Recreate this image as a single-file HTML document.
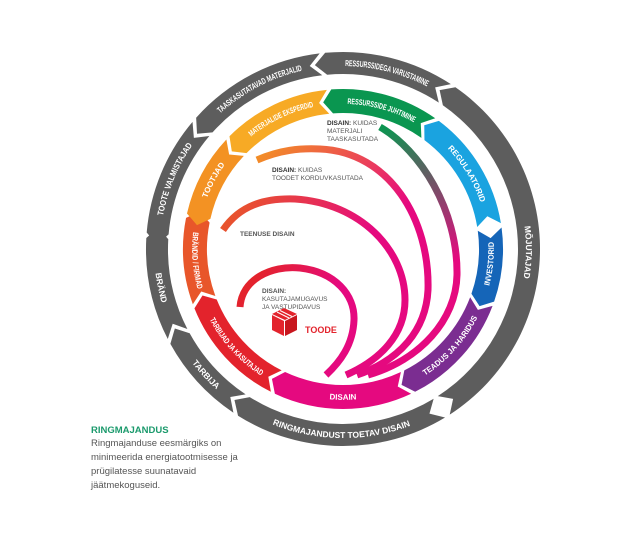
<!DOCTYPE html>
<html><head><meta charset="utf-8">
<style>
html,body{margin:0;padding:0;background:#fff;}
svg{display:block;}
.g{font-family:"Liberation Sans Narrow","Liberation Sans",sans-serif;font-weight:bold;fill:#fff;}
.s{font-family:"Liberation Sans Narrow","Liberation Sans",sans-serif;font-size:6.5px;fill:#555;}
</style></head>
<body>
<svg id="sv" width="640" height="533" viewBox="0 0 640 533" xmlns="http://www.w3.org/2000/svg">
<defs>
<linearGradient id="gr1" gradientUnits="userSpaceOnUse" x1="240" y1="300" x2="340" y2="370"><stop offset="0" stop-color="#e3232c"/><stop offset="0.6" stop-color="#e5097f"/></linearGradient>
<linearGradient id="gr2" gradientUnits="userSpaceOnUse" x1="223" y1="220" x2="400" y2="340"><stop offset="0" stop-color="#e8562a"/><stop offset="0.6" stop-color="#e5097f"/></linearGradient>
<linearGradient id="gr3" gradientUnits="userSpaceOnUse" x1="257" y1="150" x2="430" y2="320"><stop offset="0" stop-color="#f39223"/><stop offset="0.6" stop-color="#e5097f"/></linearGradient>
<linearGradient id="gr4" gradientUnits="userSpaceOnUse" x1="380" y1="127" x2="450" y2="330"><stop offset="0" stop-color="#0a9650"/><stop offset="0.7" stop-color="#e5097f"/></linearGradient>
</defs>
<g id="rings"></g>
<g fill="none" stroke-width="7">
<path d="M380,127 C420,150 458,210 457,275 C456,320 420,360 368,375" stroke="url(#gr4)"/>
<path d="M257,160 C280,150 300,148 320,149 C390,152 430,220 428,290 C426,330 400,360 357,375" stroke="url(#gr3)"/>
<path d="M223,230 C240,205 265,198 295,199 C360,203 405,250 405,300 C405,335 380,360 346,375" stroke="url(#gr2)"/>
<path d="M240,307 C242,280 270,265 300,268 C335,272 355,295 354,320 C353,345 340,362 326,375" stroke="url(#gr1)"/>
</g>
<text class="s" x="327" y="125"><tspan font-weight="bold" fill="#333">DISAIN:</tspan> KUIDAS</text>
<text class="s" x="327" y="133">MATERJALI</text>
<text class="s" x="327" y="141">TAASKASUTADA</text>
<text class="s" x="272" y="172"><tspan font-weight="bold" fill="#333">DISAIN:</tspan> KUIDAS</text>
<text class="s" x="272" y="180">TOODET KORDUVKASUTADA</text>
<text class="s" x="240" y="236" font-weight="bold" fill="#333">TEENUSE DISAIN</text>
<text class="s" x="262" y="293" font-weight="bold" fill="#333">DISAIN:</text>
<text class="s" x="262" y="301">KASUTAJAMUGAVUS</text>
<text class="s" x="262" y="309">JA VASTUPIDAVUS</text>
<g transform="translate(272,308)">
<polygon points="12,0 25,6 13,12 0,6" fill="#e3232c"/>
<polygon points="0,7 12,13 12,28 0,22" fill="#e3232c"/>
<polygon points="13,13 25,7 25,22 13,28" fill="#c8161e"/>
<line x1="5" y1="4" x2="17" y2="10" stroke="#fff" stroke-width="1"/>
<line x1="8" y1="2.5" x2="20" y2="8.5" stroke="#fff" stroke-width="1"/>
</g>
<text x="305" y="333" font-family="Liberation Sans Narrow, Liberation Sans, sans-serif" font-weight="bold" font-size="9" fill="#e3232c">TOODE</text>
<text x="91" y="433" font-family="Liberation Sans Narrow, Liberation Sans, sans-serif" font-weight="bold" font-size="9.5" fill="#1b9a6c">RINGMAJANDUS</text>
<g font-family="Liberation Sans, sans-serif" font-size="9.5" fill="#555">
<text x="91" y="446">Ringmajanduse eesmärgiks on</text>
<text x="91" y="460">minimeerida energiatootmisesse ja</text>
<text x="91" y="474">prügilatesse suunatavaid</text>
<text x="91" y="488">jäätmekoguseid.</text>
</g>
</svg>
<script>
var NS="http://www.w3.org/2000/svg",cx=343,cy=249,G=document.getElementById('rings');
var defs=document.querySelector('defs');
function P(r,a){a=a*Math.PI/180;return [cx+r*Math.cos(a),cy+r*Math.sin(a)];}
function f(p){return p[0].toFixed(2)+','+p[1].toFixed(2);}
var id=0,fits=[];
function seg(a1,a2,r1,r2,col,label,fs,ccwPoint,textCCW,maxfrac){
 var gap=0.8,d=3.5,rm=(r1+r2)/2;
 a1+=gap;a2-=gap;
 var la=(a2-a1)>180?1:0,s;
 if(ccwPoint){
  s='M'+f(P(r2,a1))+' A'+r2+','+r2+' 0 '+la+' 1 '+f(P(r2,a2))+' L'+f(P(rm,a2-d))+' L'+f(P(r1,a2))+
    ' A'+r1+','+r1+' 0 '+la+' 0 '+f(P(r1,a1))+' L'+f(P(rm,a1-d))+'Z';
 }else{
  s='M'+f(P(r2,a1))+' A'+r2+','+r2+' 0 '+la+' 1 '+f(P(r2,a2))+' L'+f(P(rm,a2+d))+' L'+f(P(r1,a2))+
    ' A'+r1+','+r1+' 0 '+la+' 0 '+f(P(r1,a1))+' L'+f(P(rm,a1+d))+'Z';
 }
 var p=document.createElementNS(NS,'path');p.setAttribute('d',s);p.setAttribute('fill',col);G.appendChild(p);
 var rt=textCCW?rm+fs*0.36:rm-fs*0.36;
 var tp=document.createElementNS(NS,'path');tp.id='tp'+(id++);
 var b1=a1-30,b2=a2+30,la2=(b2-b1)>180?1:0;
 if(!textCCW) tp.setAttribute('d','M'+f(P(rt,b1))+' A'+rt+','+rt+' 0 '+la2+' 1 '+f(P(rt,b2)));
 else tp.setAttribute('d','M'+f(P(rt,b2))+' A'+rt+','+rt+' 0 '+la2+' 0 '+f(P(rt,b1)));
 defs.appendChild(tp);
 var t=document.createElementNS(NS,'text');t.setAttribute('class','g');t.setAttribute('font-size',fs);
 var q=document.createElementNS(NS,'textPath');q.setAttribute('href','#'+tp.id);
 q.setAttributeNS('http://www.w3.org/1999/xlink','xlink:href','#'+tp.id);
 q.setAttribute('startOffset','50%');q.setAttribute('text-anchor','middle');q.textContent=label;
 t.appendChild(q);G.appendChild(t);
 fits.push([t,q,(a2-a1-2*d)*Math.PI/180*rt*(maxfrac||0.85)]);
}
var gr='#5d5d5d';
seg(-96,-56,175,197,gr,'RESSURSSIDEGA VARUSTAMINE',8.5,true,false);
seg(-56,58,175,197,gr,'MÕJUTAJAD',8.5,true,false);
seg(58,123,175,197,gr,'RINGMAJANDUST TOETAV DISAIN',8.5,false,true,0.8);
seg(123,152,175,197,gr,'TARBIJA',8.5,false,true);
seg(152,184,175,197,gr,'BRÄND',8.5,false,true);
seg(184,221,175,197,gr,'TOOTE VALMISTAJAD',8.5,true,false);
seg(221,264,175,197,gr,'TAASKASUTATAVAD MATERJALID',8.5,true,false);
seg(-95,-54,136,160,'#0a9650','RESSURSSIDE JUHTIMINE',8,true,false);
seg(-54,-8.5,136,160,'#1aa3e0','REGULAATORID',8,true,false);
seg(-8.5,20,136,160,'#1565b8','INVESTORID',8,false,true);
seg(20,64,136,160,'#7b2d91','TEADUS JA HARIDUS',8,false,true);
seg(64,116,136,160,'#e5097f','DISAIN',8,false,true);
seg(116,159,136,160,'#e3232c','TARBIJAD JA KASUTAJAD',8,false,true);
seg(159,192,136,160,'#e8562a','BRÄNDID / FIRMAD',8,false,true,0.9);
seg(192,224,136,160,'#f39223','TOOTJAD',8,true,false);
seg(224,265,136,160,'#f7aa25','MATERJALIDE EKSPERDID',8,true,false);
fits.forEach(function(x){
 try{var w=x[0].getComputedTextLength();
 if(w>x[2]){x[1].setAttribute('textLength',x[2].toFixed(1));x[1].setAttribute('lengthAdjust','spacingAndGlyphs');}}catch(e){}
});
</script>
</body></html>
